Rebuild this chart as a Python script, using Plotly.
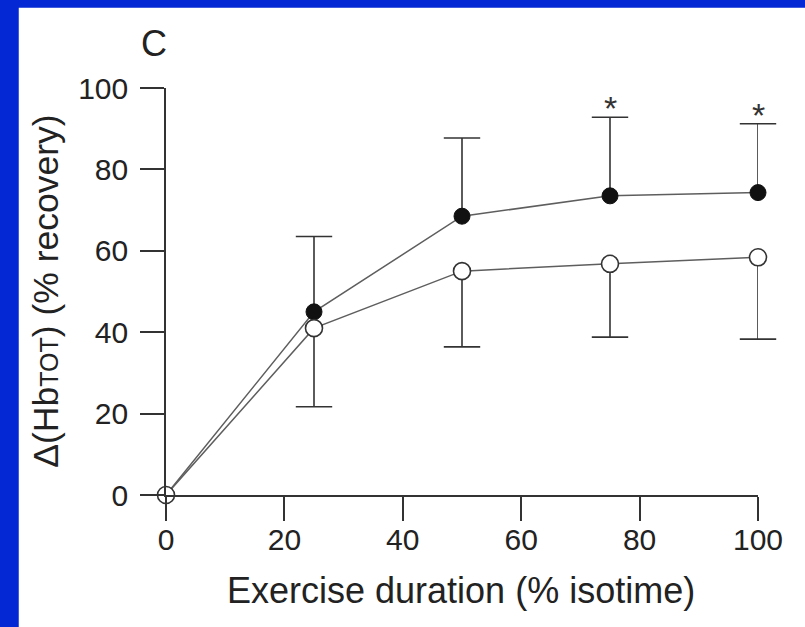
import plotly.graph_objects as go

# ---- data ----
duration = [0, 25, 50, 75, 100]
filled_mean = [0, 45.0, 68.5, 73.5, 74.3]
filled_sd = [0, 18.5, 19.2, 19.3, 16.9]
open_mean = [0, 41.0, 55.0, 56.8, 58.4]
open_sd = [0, 19.3, 18.6, 18.0, 20.1]
significant = [False, False, False, True, True]
x_ticks = [0, 20, 40, 60, 80, 100]
y_ticks = [0, 20, 40, 60, 80, 100]

BLUE = "#0328D4"
INK = "#333333"
LINE = "#5e5e5e"
FONT = "Liberation Sans, Arial, sans-serif"

W, H = 805, 627
ML, MR, MT, MB = 165.5, 46.5, 87.5, 131.5
PW, PH = W - ML - MR, H - MT - MB


def px2x(p):
    return (p - ML) / PW


def px2y(p):
    return (H - MB - p) / PH


fig = go.Figure()

# error bar stems + caps
def err_traces(means, sds, sign):
    sx, sy, cx, cy = [], [], [], []
    for xv, m, s in zip(duration, means, sds):
        if s > 0:
            end = m + sign * s
            sx += [xv, xv, None]
            sy += [m, end, None]
            cx.append(xv)
            cy.append(end)
    fig.add_trace(go.Scatter(x=sx, y=sy, mode="lines",
                             line=dict(color=INK, width=1.6),
                             hoverinfo="skip", showlegend=False, cliponaxis=False))
    fig.add_trace(go.Scatter(x=cx, y=cy, mode="markers",
                             marker=dict(symbol="line-ew", size=26,
                                         line=dict(color=INK, width=1.6)),
                             hoverinfo="skip", showlegend=False, cliponaxis=False))

err_traces(filled_mean, filled_sd, +1)
err_traces(open_mean, open_sd, -1)

fig.add_trace(go.Scatter(x=duration, y=filled_mean, mode="lines+markers",
                         line=dict(color=LINE, width=1.5),
                         marker=dict(size=16, color="#111111",
                                     line=dict(color="#111111", width=1)),
                         showlegend=False, cliponaxis=False))
fig.add_trace(go.Scatter(x=duration, y=open_mean, mode="lines+markers",
                         line=dict(color=LINE, width=1.5),
                         marker=dict(size=17, color="white",
                                     line=dict(color=INK, width=1.6)),
                         showlegend=False, cliponaxis=False))

annotations = []
for xv, m, s, sig in zip(duration, filled_mean, filled_sd, significant):
    if sig:
        annotations.append(dict(x=xv, y=m + s, xref="x", yref="y", text="*",
                                showarrow=False, yanchor="bottom", yshift=-12,
                                font=dict(family=FONT, size=34, color=INK)))

annotations += [
    dict(x=px2x(153.5), y=px2y(42.4), xref="paper", yref="paper", text="C",
         showarrow=False, xanchor="center", yanchor="middle",
         font=dict(family=FONT, size=36, color="#222222")),
    dict(x=px2x(460.5), y=px2y(590.8), xref="paper", yref="paper",
         text="Exercise duration (% isotime)", showarrow=False,
         xanchor="center", yanchor="middle",
         font=dict(family=FONT, size=36, color="#222222")),
    dict(x=px2x(45), y=px2y(291), xref="paper", yref="paper",
         text="Δ(Hb<span style='font-size:25px'>TOT</span>) (% recovery)",
         showarrow=False, textangle=-90, xanchor="center", yanchor="middle",
         font=dict(family=FONT, size=35.5, color="#222222")),
]

fig.update_layout(
    width=W, height=H,
    margin=dict(l=ML, r=MR, t=MT, b=MB, pad=0),
    paper_bgcolor=BLUE, plot_bgcolor="white",
    annotations=annotations,
    shapes=[dict(type="rect", xref="paper", yref="paper", layer="below",
                 x0=px2x(18), x1=px2x(W + 5), y0=px2y(7), y1=px2y(H + 5),
                 fillcolor="white", line=dict(width=0))],
    font=dict(family=FONT, color="#222222"),
)
fig.update_xaxes(range=[0, 100], tickvals=x_ticks, showgrid=False, zeroline=False,
                 showline=True, linecolor=INK, linewidth=1.6,
                 ticks="outside", ticklen=24, tickwidth=1.6, tickcolor=INK,
                 tickfont=dict(family=FONT, size=30, color="#222222"),
                 ticklabelstandoff=-7)
fig.update_yaxes(range=[0, 100], tickvals=y_ticks, showgrid=False, zeroline=False,
                 showline=True, linecolor=INK, linewidth=1.6,
                 ticks="outside", ticklen=24, tickwidth=1.6, tickcolor=INK,
                 tickfont=dict(family=FONT, size=30, color="#222222"),
                 ticklabelstandoff=6)

fig.write_html("out.html")
